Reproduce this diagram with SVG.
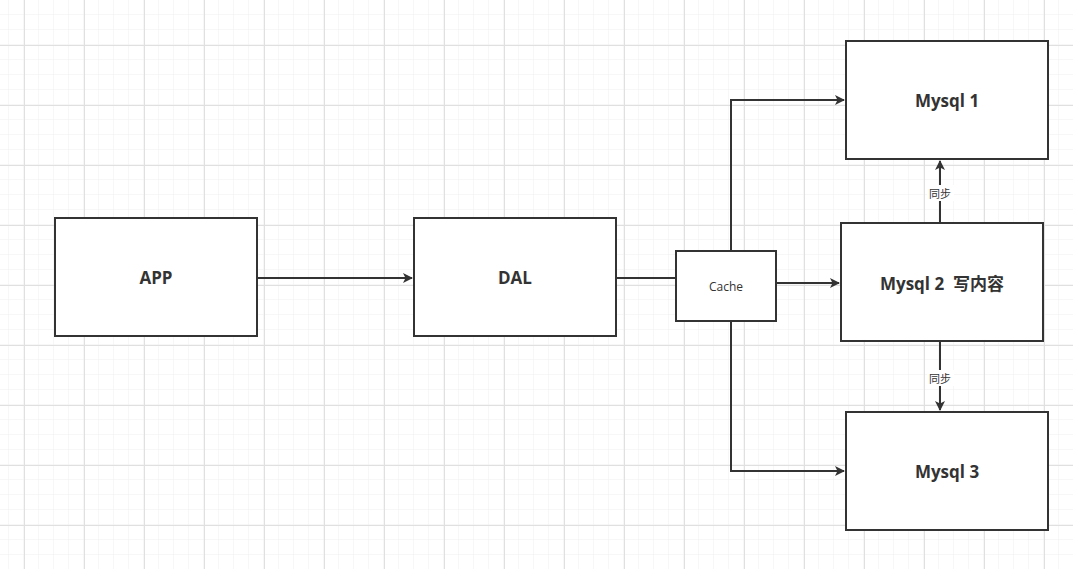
<svg xmlns="http://www.w3.org/2000/svg" width="1073" height="569" viewBox="0 0 1073 569">
<defs>
<pattern id="minor" width="15" height="15" patternUnits="userSpaceOnUse" x="9" y="0">
<path d="M15 0V15M0 15H15" fill="none" stroke="#efefef" stroke-width="1"/>
</pattern>
<pattern id="major" width="60" height="60" patternUnits="userSpaceOnUse" x="24" y="45">
<path d="M0.5 0V60M0 0.5H60" fill="none" stroke="#e0e0e0" stroke-width="1"/>
</pattern>
<marker id="arr" markerWidth="10" markerHeight="10" refX="9" refY="5" orient="auto" markerUnits="userSpaceOnUse" viewBox="0 0 10 10">
<path d="M0 0L10 5L0 10L2.5 5Z" fill="#333"/>
</marker>
</defs>
<style>
.box{fill:#fff;stroke:#333;stroke-width:2}
.lbl{font-family:"Open Sans","Liberation Sans","Noto Sans CJK SC",sans-serif;font-weight:bold;font-size:17px;fill:#333;text-anchor:middle;dominant-baseline:central}
.sm{font-family:"Open Sans","Liberation Sans","Noto Sans CJK SC",sans-serif;font-size:11px;fill:#333;text-anchor:middle;dominant-baseline:central}
.c{fill:none;stroke:#333;stroke-width:2}
</style>
<rect width="1073" height="569" fill="#fff"/>
<rect width="1073" height="569" fill="url(#minor)"/>
<rect width="1073" height="569" fill="url(#major)"/>
<g id="connectors">
<path class="c" d="M257 278H412" marker-end="url(#arr)"/>
<path class="c" d="M616 278H676"/>
<path class="c" d="M776 283H839" marker-end="url(#arr)"/>
<path class="c" d="M731 251V100H844" marker-end="url(#arr)"/>
<path class="c" d="M731 321V471H844" marker-end="url(#arr)"/>
<path class="c" d="M940 223V161" marker-end="url(#arr)"/>
<path class="c" d="M940 341V410" marker-end="url(#arr)"/>
<rect x="927" y="185" width="27" height="16" fill="#fff"/>
<text class="sm" x="940" y="193">同步</text>
<rect x="927" y="370" width="27" height="16" fill="#fff"/>
<text class="sm" x="940" y="378">同步</text>
</g>
<g id="app"><rect class="box" x="55" y="218" width="202" height="118"/><text class="lbl" x="156" y="277">APP</text></g>
<g id="dal"><rect class="box" x="414" y="218" width="202" height="118"/><text class="lbl" x="515" y="277">DAL</text></g>
<g id="cache"><rect class="box" x="676" y="251" width="100" height="70"/><text class="sm" x="726" y="286" style="font-size:12px">Cache</text></g>
<g id="mysql1"><rect class="box" x="846" y="41" width="202" height="118"/><text class="lbl" x="947" y="100">Mysql 1</text></g>
<g id="mysql2"><rect class="box" x="841" y="223" width="202" height="118"/><text class="lbl" x="942" y="283" xml:space="preserve">Mysql 2  写内容</text></g>
<g id="mysql3"><rect class="box" x="846" y="412" width="202" height="118"/><text class="lbl" x="947" y="471">Mysql 3</text></g>
</svg>
